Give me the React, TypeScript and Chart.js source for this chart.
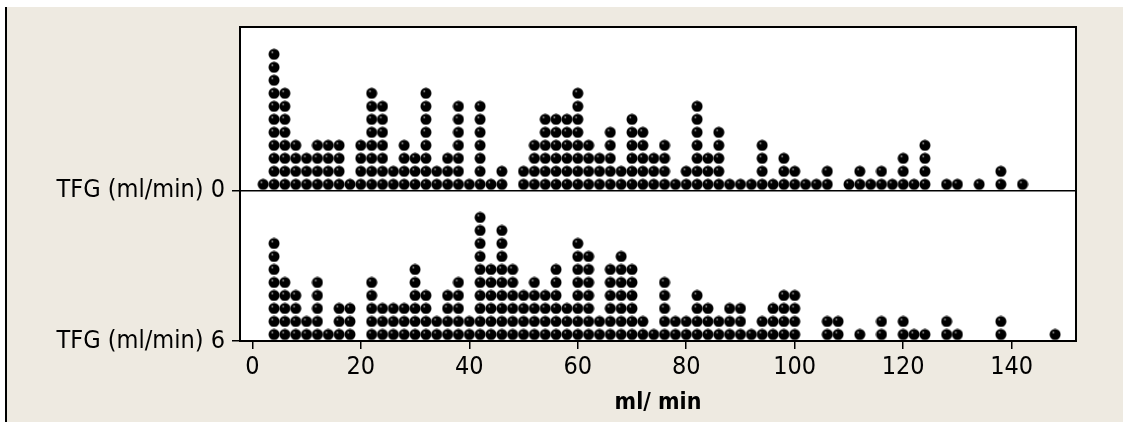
import React, { useEffect, useRef } from 'react';
import { Chart, registerables } from 'chart.js';

Chart.register(...registerables);

// ---- data ----
const groupLabels = ['TFG (ml/min) 0', 'TFG (ml/min) 6'];

const binsTop = [2, 4, 6, 8, 10, 12, 14, 16, 18, 20, 22, 24, 26, 28, 30, 32, 34, 36, 38, 40, 42, 44, 46,
  50, 52, 54, 56, 58, 60, 62, 64, 66, 68, 70, 72, 74, 76, 78, 80, 82, 84, 86, 88, 90, 92, 94, 96, 98, 100,
  102, 104, 106, 110, 112, 114, 116, 118, 120, 122, 124, 128, 130, 134, 138, 142];
const countsTop = [1, 11, 8, 4, 3, 4, 4, 4, 1, 4, 8, 7, 2, 4, 3, 8, 2, 3, 7, 1, 7, 1, 2,
  2, 4, 6, 6, 6, 8, 4, 3, 5, 2, 6, 5, 3, 4, 1, 2, 7, 3, 5, 1, 1, 1, 4, 1, 3, 2,
  1, 1, 2, 1, 2, 1, 2, 1, 3, 1, 4, 1, 1, 1, 2, 1];

const binsBottom = [4, 6, 8, 10, 12, 14, 16, 18, 22, 24, 26, 28, 30, 32, 34, 36, 38, 40, 42, 44, 46, 48,
  50, 52, 54, 56, 58, 60, 62, 64, 66, 68, 70, 72, 74, 76, 78, 80, 82, 84, 86, 88, 90, 92, 94, 96, 98, 100,
  106, 108, 112, 116, 120, 122, 124, 128, 130, 138, 148];
const countsBottom = [8, 5, 4, 2, 5, 1, 3, 3, 5, 3, 3, 3, 6, 4, 2, 4, 5, 2, 10, 6, 9, 6,
  4, 5, 4, 6, 3, 8, 7, 2, 6, 7, 6, 2, 1, 5, 2, 2, 4, 3, 2, 3, 3, 1, 2, 3, 4, 4,
  2, 2, 1, 2, 2, 1, 1, 2, 1, 2, 1];

const xTicks = [0, 20, 40, 60, 80, 100, 120, 140];
const xTitle = 'ml/ min';

// ---- layout ----
const X_MIN = -2.27;
const X_MAX = 151.86;
const Y_MAX = 24.15;
const PANEL_OFFSET = 11.55;
const FONT = '"DejaVu Sans Condensed", "DejaVu Sans", sans-serif';

function stackDots(bins: number[], counts: number[], base: number) {
  const pts: { x: number; y: number }[] = [];
  bins.forEach((b, i) => {
    for (let k = 0; k < counts[i]; k++) pts.push({ x: b, y: base + k + 0.5 });
  });
  return pts;
}

function makeDot() {
  const c = document.createElement('canvas');
  c.width = 12;
  c.height = 12;
  const g = c.getContext('2d')!;
  g.fillStyle = '#000';
  g.beginPath();
  g.arc(6, 6, 5.5, 0, Math.PI * 2);
  g.fill();
  g.fillStyle = 'rgba(255,255,255,0.55)';
  g.beginPath();
  g.arc(4.3, 4.0, 1.0, 0, Math.PI * 2);
  g.fill();
  return c;
}

const framePlugin = {
  id: 'frame',
  beforeDraw(chart: any) {
    const { ctx, chartArea: a } = chart;
    ctx.save();
    ctx.fillStyle = '#ffffff';
    ctx.fillRect(a.left, a.top, a.right - a.left, a.bottom - a.top);
    ctx.restore();
  },
  beforeDatasetsDraw(chart: any) {
    const { ctx, chartArea: a, scales } = chart;
    const yMid = scales.y.getPixelForValue(PANEL_OFFSET);
    ctx.save();
    ctx.strokeStyle = '#000';
    ctx.lineWidth = 1.5;
    ctx.beginPath();
    ctx.moveTo(a.left, yMid);
    ctx.lineTo(a.right, yMid);
    ctx.stroke();
    ctx.lineWidth = 2;
    ctx.strokeRect(a.left, a.top, a.right - a.left, a.bottom - a.top);
    ctx.restore();
  },
};

export default function App() {
  const ref = useRef<HTMLCanvasElement>(null);

  useEffect(() => {
    document.body.style.margin = '0';
    const dot = makeDot();
    const chart = new Chart(ref.current!, {
      type: 'scatter',
      data: {
        datasets: [
          {
            label: groupLabels[0],
            data: stackDots(binsTop, countsTop, PANEL_OFFSET),
            pointStyle: dot as any,
            pointRadius: 5.5,
            backgroundColor: '#000',
            borderColor: '#000',
          },
          {
            label: groupLabels[1],
            data: stackDots(binsBottom, countsBottom, 0),
            pointStyle: dot as any,
            pointRadius: 5.5,
            backgroundColor: '#000',
            borderColor: '#000',
          },
        ],
      },
      options: {
        responsive: false,
        animation: false,
        devicePixelRatio: 1,
        layout: { padding: { top: 27, right: 47, left: 0, bottom: 0 } },
        plugins: { legend: { display: false }, tooltip: { enabled: false } },
        scales: {
          x: {
            type: 'linear',
            min: X_MIN,
            max: X_MAX,
            afterBuildTicks: (s: any) => {
              s.ticks = xTicks.map((v) => ({ value: v }));
            },
            afterFit: (s: any) => {
              s.height = 81;
            },
            ticks: {
              autoSkip: false,
              maxRotation: 0,
              padding: 3,
              color: '#000',
              font: { family: FONT, size: 25 },
              callback: (v: any) => String(v),
            },
            grid: { drawOnChartArea: false, drawTicks: true, tickLength: 8, color: '#000', lineWidth: 1.5 },
            border: { display: false },
            title: {
              display: true,
              text: xTitle,
              color: '#000',
              font: { family: FONT, size: 23, weight: 'bold' },
              padding: { top: 0, bottom: 5 },
            },
          },
          y: {
            type: 'linear',
            min: 0,
            max: Y_MAX,
            afterBuildTicks: (s: any) => {
              s.ticks = [{ value: 0 }, { value: PANEL_OFFSET }];
            },
            afterFit: (s: any) => {
              s.width = 240;
            },
            ticks: {
              autoSkip: false,
              padding: 7,
              color: '#000',
              font: { family: FONT, size: 25 },
              callback: (_v: any, i: number) => (i === 0 ? groupLabels[1] : groupLabels[0]),
            },
            grid: { drawOnChartArea: false, drawTicks: true, tickLength: 8, color: '#000', lineWidth: 1.5 },
            border: { display: false },
          },
        },
      },
      plugins: [framePlugin],
    });
    return () => chart.destroy();
  }, []);

  return (
    <div style={{ position: 'fixed', left: 0, top: 0, width: 1123, height: 422, background: '#ffffff', overflow: 'hidden' }}>
      <div
        style={{
          position: 'absolute',
          left: 5,
          top: 7,
          width: 1118,
          height: 415,
          boxSizing: 'border-box',
          borderLeft: '2px solid #000',
          background: '#EEEAE1',
        }}
      />
      <canvas ref={ref} width={1123} height={422} style={{ position: 'absolute', left: 0, top: 0, display: 'block' }} />
    </div>
  );
}
